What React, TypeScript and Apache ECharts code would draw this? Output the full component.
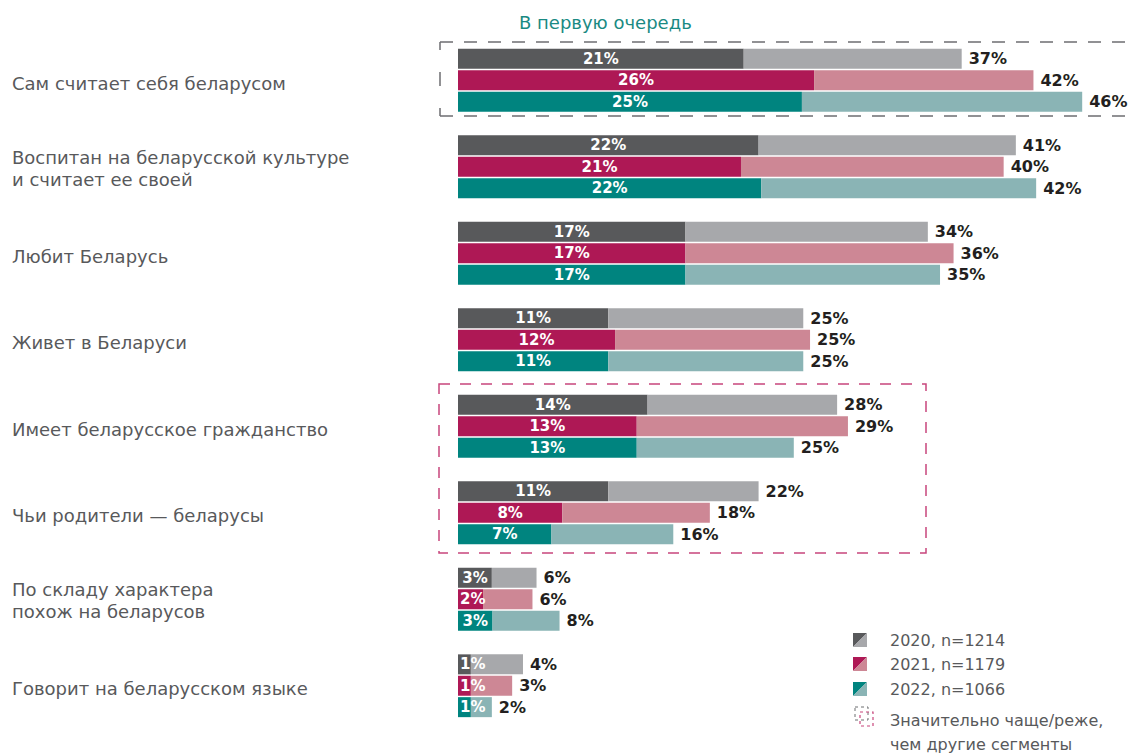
import React, { useEffect, useRef } from "react";
import * as echarts from "echarts";

const categories = [
  "Сам считает себя беларусом",
  "Воспитан на беларусской культуре\nи считает ее своей",
  "Любит Беларусь",
  "Живет в Беларуси",
  "Имеет беларусское гражданство",
  "Чьи родители — беларусы",
  "По складу характера\nпохож на беларусов",
  "Говорит на беларусском языке",
];

const yearNames = ["2020, n=1214", "2021, n=1179", "2022, n=1066"];

// bar lengths ("в первую очередь" and total)
const first2020 = [21.1, 22.2, 16.8, 11.1, 14.0, 11.1, 2.5, 0.95];
const total2020 = [37.2, 41.2, 34.7, 25.5, 28.0, 22.2, 5.8, 4.8];
const first2021 = [26.3, 20.9, 16.8, 11.6, 13.2, 7.7, 1.85, 0.95];
const total2021 = [42.5, 40.3, 36.6, 26.0, 28.8, 18.6, 5.5, 4.0];
const first2022 = [25.4, 22.4, 16.8, 11.1, 13.2, 6.9, 2.55, 0.95];
const total2022 = [46.1, 42.7, 35.6, 25.5, 24.8, 15.9, 7.5, 2.5];

// printed labels
const firstLbl2020 = [21, 22, 17, 11, 14, 11, 3, 1];
const totalLbl2020 = [37, 41, 34, 25, 28, 22, 6, 4];
const firstLbl2021 = [26, 21, 17, 12, 13, 8, 2, 1];
const totalLbl2021 = [42, 40, 36, 25, 29, 18, 6, 3];
const firstLbl2022 = [25, 22, 17, 11, 13, 7, 3, 1];
const totalLbl2022 = [46, 42, 35, 25, 25, 16, 8, 2];

const darkColors = ["#58595b", "#ae1855", "#00847f"];
const lightColors = ["#a7a8ab", "#cd8795", "#8ab4b5"];

const TEXT_FONT = '"DejaVu Sans", "Noto Sans", sans-serif';
const NUM_FONT = '"DejaVu Sans", sans-serif';

export default function App() {
  const ref = useRef<HTMLDivElement>(null);

  useEffect(() => {
    if (!ref.current) return;
    const chart = echarts.init(ref.current, null, { renderer: "svg" });

    const firsts = [first2020, first2021, first2022];
    const totals = [total2020, total2021, total2022];
    const firstLbls = [firstLbl2020, firstLbl2021, firstLbl2022];
    const totalLbls = [totalLbl2020, totalLbl2021, totalLbl2022];

    const series: any[] = [];
    for (let i = 0; i < 3; i++) {
      const f = firsts[i];
      const t = totals[i];
      series.push({
        type: "bar",
        name: yearNames[i],
        stack: "s" + i,
        barWidth: 20,
        barGap: "7%",
        silent: true,
        itemStyle: { color: darkColors[i] },
        label: {
          show: true,
          position: "inside",
          color: "#ffffff",
          fontFamily: NUM_FONT,
          fontWeight: "bold",
          fontSize: 15,
          formatter: (p: any) => firstLbls[i][p.dataIndex] + "%",
        },
        data: f.map((v) =>
          v < 2 ? { value: v, label: { position: "insideLeft", distance: 2 } } : { value: v }
        ),
      });
      series.push({
        type: "bar",
        name: yearNames[i] + " total",
        stack: "s" + i,
        barWidth: 20,
        barGap: "7%",
        silent: true,
        itemStyle: { color: lightColors[i] },
        label: {
          show: true,
          position: "right",
          distance: 7,
          color: "#231f20",
          fontFamily: NUM_FONT,
          fontWeight: "bold",
          fontSize: 16,
          formatter: (p: any) => totalLbls[i][p.dataIndex] + "%",
        },
        data: t.map((v, j) => +(v - f[j]).toFixed(2)),
      });
    }

    const grayDash = "#6d6e71";
    const pink = "#c8467c";
    const legendItems: any[] = [];
    const legendY = [640, 664, 689];
    for (let i = 0; i < 3; i++) {
      const y0 = legendY[i] - 7;
      legendItems.push(
        {
          type: "polygon",
          shape: { points: [[853, y0], [867, y0], [853, y0 + 14]] },
          style: { fill: darkColors[i] },
        },
        {
          type: "polygon",
          shape: { points: [[867, y0], [867, y0 + 14], [853, y0 + 14]] },
          style: { fill: lightColors[i] },
        },
        {
          type: "text",
          x: 890,
          y: legendY[i],
          style: {
            text: yearNames[i],
            fill: "#58595b",
            font: "16px " + TEXT_FONT,
            verticalAlign: "middle",
          },
        }
      );
    }
    legendItems.push(
      {
        type: "rect",
        shape: { x: 855, y: 707, width: 13, height: 13 },
        style: { fill: "none", stroke: grayDash, lineWidth: 1, lineDash: [3, 3] },
      },
      {
        type: "rect",
        shape: { x: 860, y: 712, width: 13, height: 14 },
        style: { fill: "none", stroke: pink, lineWidth: 1.2, lineDash: [3, 3] },
      },
      {
        type: "text",
        x: 890,
        y: 720,
        style: {
          text: "Значительно чаще/реже,",
          fill: "#58595b",
          font: "16px " + TEXT_FONT,
          verticalAlign: "middle",
        },
      },
      {
        type: "text",
        x: 890,
        y: 744,
        style: {
          text: "чем другие сегменты",
          fill: "#58595b",
          font: "16px " + TEXT_FONT,
          verticalAlign: "middle",
        },
      }
    );

    const option: any = {
      animation: false,
      title: {
        text: "В первую очередь",
        left: 514,
        top: 8,
        textStyle: {
          color: "#1a8a83",
          fontSize: 18,
          fontWeight: "normal",
          fontFamily: TEXT_FONT,
        },
      },
      grid: { left: 458, right: 7, top: 37, bottom: 25, containLabel: false },
      xAxis: { type: "value", min: 0, max: 50, show: false },
      yAxis: {
        type: "category",
        data: categories,
        inverse: true,
        axisLine: { show: false },
        axisTick: { show: false },
        splitLine: { show: false },
        axisLabel: {
          align: "left",
          margin: 446,
          color: "#58595b",
          fontSize: 18,
          lineHeight: 25,
          fontFamily: TEXT_FONT,
          formatter: (v: string) => {
            const lines = v.split("\n");
            return lines.map((l, k) => (k === 0 ? "{f|" + l + "}" : "{b|" + l + "}")).join("\n");
          },
          rich: {
            f: {
              color: "#58595b",
              fontSize: 18,
              lineHeight: 25,
              fontFamily: TEXT_FONT,
              padding: [6, 0, 0, 0],
            },
            b: {
              color: "#58595b",
              fontSize: 18,
              lineHeight: 25,
              fontFamily: TEXT_FONT,
            },
          },
        },
      },
      series,
      graphic: [
        {
          type: "line",
          shape: { x1: 440, y1: 42, x2: 1136, y2: 42 },
          style: { stroke: grayDash, lineWidth: 1.5, lineDash: [13, 11] },
        },
        {
          type: "line",
          shape: { x1: 440, y1: 116, x2: 1136, y2: 116 },
          style: { stroke: grayDash, lineWidth: 1.5, lineDash: [13, 11] },
        },
        {
          type: "line",
          shape: { x1: 440, y1: 42, x2: 440, y2: 116 },
          style: { stroke: grayDash, lineWidth: 1.5, lineDash: [8, 22, 14, 22] },
        },
        {
          type: "rect",
          shape: { x: 439, y: 384, width: 487, height: 169 },
          style: { fill: "none", stroke: pink, lineWidth: 1.5, lineDash: [11, 10] },
        },
        ...legendItems,
      ],
    };

    chart.setOption(option);
    return () => chart.dispose();
  }, []);

  return (
    <div
      ref={ref}
      style={{ position: "absolute", left: 0, top: 0, width: 1142, height: 754, background: "#fff" }}
    />
  );
}
